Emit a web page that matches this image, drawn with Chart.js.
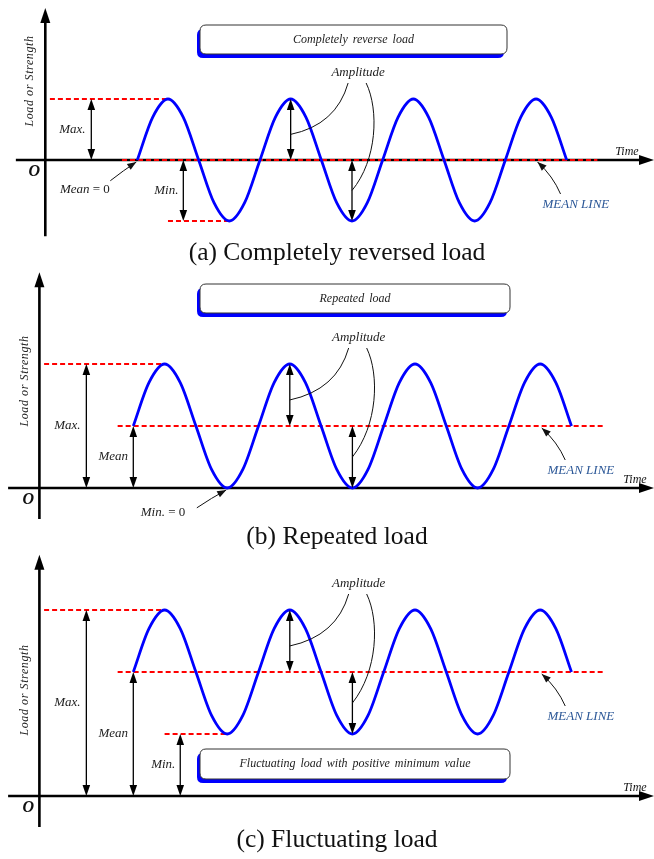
<!DOCTYPE html>
<html>
<head>
<meta charset="utf-8">
<script src="https://cdn.jsdelivr.net/npm/chart.js@4.4.0/dist/chart.umd.min.js"></script>
<style>
  html, body { margin: 0; padding: 0; background: #fff; }
  #wrap { position: relative; width: 654px; height: 859px; }
  canvas { position: absolute; left: 0; }
</style>
</head>
<body>
<div id="wrap">
  <canvas id="chartA" width="654" height="270" style="top:0px"></canvas>
  <canvas id="chartB" width="654" height="290" style="top:262px"></canvas>
  <canvas id="chartC" width="654" height="315" style="top:544px"></canvas>
</div>
<script>
// time in quarter periods (y axis sits at t = 0), load in amplitude units,
// read off the curves every eighth of a period
var times = [3, 3.5, 4, 4.5, 5, 5.5, 6, 6.5, 7, 7.5, 8, 8.5, 9, 9.5, 10, 10.5,
             11, 11.5, 12, 12.5, 13, 13.5, 14, 14.5, 15, 15.5, 16, 16.5, 17];
var loadA = [0, 0.7, 1, 0.7, 0, -0.7, -1, -0.7, 0, 0.7, 1, 0.7, 0, -0.7, -1, -0.7,
             0, 0.7, 1, 0.7, 0, -0.7, -1, -0.7, 0, 0.7, 1, 0.7, 0];
var loadB = [1, 1.7, 2, 1.7, 1, 0.3, 0, 0.3, 1, 1.7, 2, 1.7, 1, 0.3, 0, 0.3,
             1, 1.7, 2, 1.7, 1, 0.3, 0, 0.3, 1, 1.7, 2, 1.7, 1];
var loadC = [2, 2.7, 3, 2.7, 2, 1.3, 1, 1.3, 2, 2.7, 3, 2.7, 2, 1.3, 1, 1.3,
             2, 2.7, 3, 2.7, 2, 1.3, 1, 1.3, 2, 2.7, 3, 2.7, 2];

var maxLevels = [1, 2, 3];
var meanLevels = [0, 1, 2];
var minLevels = [-1, 0, 1];

// extents (in time units) of the red dashed guide lines
var meanLineSpan = [2.5, 18];
var maxLineSpan = [0.15, 4];
var minLineSpan = [4, 6];

var captions = ['(a) Completely reversed load', '(b) Repeated load', '(c) Fluctuating load'];
var boxTitles = ['Completely reverse load', 'Repeated load', 'Fluctuating load with positive minimum value'];
var yTitle = 'Load or Strength';
var xTitle = 'Time';

// layout of each panel (pixels inside its canvas)
var panels = [
  { id: 'chartA', h: 270, x0: 45.3, kx: 30.67, y0: 160, ky: 61, load: loadA,
    yTop: 2.49, yBot: -1.25, xLeft: -0.96, yTitleY: 81, captionY: 253, timeX: 627,
    box: { x: 200, y: 25, w: 307, h: 29 }, minArrow: true, minLine: true, meanArrow: false, note: 'mean0' },
  { id: 'chartB', h: 290, x0: 39.4, kx: 31.3, y0: 226, ky: 62, load: loadB,
    yTop: 3.48, yBot: -0.5, xLeft: -1.0, yTitleY: 119, captionY: 275, timeX: 635,
    box: { x: 200, y: 22, w: 310, h: 29 }, minArrow: false, minLine: false, meanArrow: true, note: 'min0' },
  { id: 'chartC', h: 315, x0: 39.4, kx: 31.3, y0: 252, ky: 62, load: loadC,
    yTop: 3.89, yBot: -0.5, xLeft: -1.0, yTitleY: 146, captionY: 296, timeX: 635,
    box: { x: 200, y: 205, w: 310, h: 30 }, minArrow: true, minLine: true, meanArrow: true, note: null }
];

var SERIF = '"Liberation Serif", "Times New Roman", serif';
var ITAL = 'italic 13px ' + SERIF;
var REG = '13px ' + SERIF;

function head(ctx, x, y, ang, len, half) {
  ctx.save();
  ctx.translate(x, y);
  ctx.rotate(ang);
  ctx.beginPath();
  ctx.moveTo(0, 0);
  ctx.lineTo(-len, -half);
  ctx.lineTo(-len, half);
  ctx.closePath();
  ctx.fill();
  ctx.restore();
}

function dbl(ctx, x, ya, yb) {
  var top = Math.min(ya, yb), bot = Math.max(ya, yb);
  ctx.save();
  ctx.strokeStyle = '#000';
  ctx.fillStyle = '#000';
  ctx.lineWidth = 1.3;
  ctx.beginPath();
  ctx.moveTo(x, top + 6);
  ctx.lineTo(x, bot - 6);
  ctx.stroke();
  head(ctx, x, top, -Math.PI / 2, 11, 3.8);
  head(ctx, x, bot, Math.PI / 2, 11, 3.8);
  ctx.restore();
}

function pointer(ctx, x1, y1, cx, cy, x2, y2) {
  ctx.save();
  ctx.strokeStyle = '#111';
  ctx.fillStyle = '#111';
  ctx.lineWidth = 1;
  ctx.beginPath();
  ctx.moveTo(x1, y1);
  ctx.quadraticCurveTo(cx, cy, x2, y2);
  ctx.stroke();
  head(ctx, x2, y2, Math.atan2(y2 - cy, x2 - cx), 9, 3.5);
  ctx.restore();
}

function txt(ctx, s, x, y, font, color) {
  ctx.save();
  ctx.font = font;
  ctx.fillStyle = color || '#222';
  ctx.textAlign = 'center';
  ctx.textBaseline = 'middle';
  ctx.fillText(s, x, y);
  ctx.restore();
}

function mixed(ctx, a, b, cx, cy) {
  ctx.save();
  ctx.font = ITAL;
  var w1 = ctx.measureText(a).width;
  ctx.font = REG;
  var w2 = ctx.measureText(b).width;
  var sx = cx - (w1 + w2) / 2;
  ctx.textAlign = 'left';
  ctx.textBaseline = 'middle';
  ctx.fillStyle = '#222';
  ctx.font = ITAL;
  ctx.fillText(a, sx, cy);
  ctx.font = REG;
  ctx.fillText(b, sx + w1, cy);
  ctx.restore();
}

function rrect(ctx, x, y, w, h, r) {
  ctx.beginPath();
  ctx.moveTo(x + r, y);
  ctx.lineTo(x + w - r, y);
  ctx.quadraticCurveTo(x + w, y, x + w, y + r);
  ctx.lineTo(x + w, y + h - r);
  ctx.quadraticCurveTo(x + w, y + h, x + w - r, y + h);
  ctx.lineTo(x + r, y + h);
  ctx.quadraticCurveTo(x, y + h, x, y + h - r);
  ctx.lineTo(x, y + r);
  ctx.quadraticCurveTo(x, y, x + r, y);
  ctx.closePath();
}

function makeOverlay(p, i) {
  return {
    id: 'overlay' + i,
    beforeDatasetsDraw: function (chart) {
      var ctx = chart.ctx;
      var X = function (v) { return chart.scales.x.getPixelForValue(v); };
      var Y = function (v) { return chart.scales.y.getPixelForValue(v); };
      var ax = X(0), ay = Y(0);
      ctx.save();
      ctx.strokeStyle = '#000';
      ctx.fillStyle = '#000';
      ctx.lineWidth = 2.6;
      ctx.beginPath();
      ctx.moveTo(ax, Y(p.yBot));
      ctx.lineTo(ax, Y(p.yTop) + 12);
      ctx.moveTo(X(p.xLeft), ay);
      ctx.lineTo(642, ay);
      ctx.stroke();
      head(ctx, ax, Y(p.yTop), -Math.PI / 2, 15, 5);
      head(ctx, 654, ay, 0, 15, 5);
      ctx.restore();
    },
    afterDatasetsDraw: function (chart) {
      var ctx = chart.ctx;
      var X = function (v) { return chart.scales.x.getPixelForValue(v); };
      var Y = function (v) { return chart.scales.y.getPixelForValue(v); };
      var ax = X(0), ay = Y(0);
      var mx = maxLevels[i], mn = meanLevels[i], mi = minLevels[i];

      // origin, axis titles
      txt(ctx, 'O', ax - 11, ay + 12, 'italic bold 16px ' + SERIF, '#111');
      ctx.save();
      ctx.translate(ax - 15, p.yTitleY);
      ctx.rotate(-Math.PI / 2);
      ctx.letterSpacing = '0.6px';
      txt(ctx, yTitle, 0, 0, 'italic 12px ' + SERIF, '#222');
      ctx.restore();
      txt(ctx, xTitle, p.timeX, ay - 8, 'italic 12px ' + SERIF, '#111');

      // title box with blue shadow
      var b = p.box;
      ctx.save();
      ctx.fillStyle = '#0000ff';
      rrect(ctx, b.x - 3, b.y + 4, b.w, b.h, 6);
      ctx.fill();
      ctx.fillStyle = '#fff';
      ctx.strokeStyle = '#333';
      ctx.lineWidth = 1;
      rrect(ctx, b.x, b.y, b.w, b.h, 6);
      ctx.fill();
      ctx.stroke();
      ctx.wordSpacing = '2px';
      txt(ctx, boxTitles[i], b.x + b.w / 2, b.y + b.h / 2, 'italic 12px ' + SERIF, '#222');
      ctx.restore();

      // level arrows
      dbl(ctx, X(1.5), ay, Y(mx));
      txt(ctx, 'Max.', X(1.5) - 19, Y(mx / 2), ITAL);
      if (p.meanArrow) {
        dbl(ctx, X(3), ay, Y(mn));
        txt(ctx, 'Mean', X(3) - 20, Y(mn / 2), ITAL);
      }
      if (p.minArrow) {
        dbl(ctx, X(4.5), ay, Y(mi));
        txt(ctx, 'Min.', X(4.5) - 17, Y(mi / 2), ITAL);
      }

      // amplitude arrows and leaders
      dbl(ctx, X(8), Y(mn), Y(mx));
      dbl(ctx, X(10), Y(mi), Y(mn));
      var lx = X(10.2), ly = Y(mx) - 26;
      txt(ctx, 'Amplitude', lx, ly, ITAL);
      ctx.save();
      ctx.strokeStyle = '#111';
      ctx.lineWidth = 1;
      ctx.beginPath();
      ctx.moveTo(lx - 10, ly + 10);
      ctx.quadraticCurveTo(lx - 22, ly + 52, X(8), Y(mn + 0.42));
      ctx.moveTo(lx + 8, ly + 10);
      ctx.bezierCurveTo(lx + 21, ly + 37, lx + 19, ly + 87, X(10), Y(mn - 0.5));
      ctx.stroke();
      ctx.restore();

      // mean line label
      txt(ctx, 'MEAN LINE', X(17.3), Y(mn) + 45, ITAL, '#2b5797');
      pointer(ctx, X(16.8), Y(mn) + 34, X(16.55), Y(mn) + 16, X(16.05), Y(mn) + 2);

      if (p.note === 'mean0') {
        mixed(ctx, 'Mean', ' = 0', X(1.29), Y(-0.49));
        pointer(ctx, X(2.12), Y(-0.34), X(2.55), Y(-0.17), X(3) - 1, ay + 2);
      }
      if (p.note === 'min0') {
        mixed(ctx, 'Min.', ' = 0', X(3.95), Y(-0.39));
        pointer(ctx, X(5.03), Y(-0.32), X(5.5), Y(-0.16), X(6) - 1, ay + 2);
      }

      // caption
      txt(ctx, captions[i], 337, p.captionY, '25.5px ' + SERIF, '#111');
    }
  };
}

function pts(xs, ys) {
  return xs.map(function (x, k) { return { x: x, y: ys[k] }; });
}

function span(xs, level) {
  return xs.map(function (x) { return { x: x, y: level }; });
}

panels.forEach(function (p, i) {
  var dashed = { borderColor: '#ff0000', borderWidth: 2, borderDash: [5, 3], pointRadius: 0, fill: false, tension: 0 };
  var sets = [
    { data: pts(times, p.load), borderColor: '#0000ff', borderWidth: 2.8, pointRadius: 0, fill: false,
      cubicInterpolationMode: 'monotone' },
    Object.assign({ data: span(meanLineSpan, meanLevels[i]) }, dashed),
    Object.assign({ data: span(maxLineSpan, maxLevels[i]) }, dashed)
  ];
  if (p.minLine) sets.push(Object.assign({ data: span(minLineSpan, minLevels[i]) }, dashed));

  new Chart(document.getElementById(p.id), {
    type: 'line',
    data: { datasets: sets },
    options: {
      responsive: false,
      animation: false,
      events: [],
      layout: { padding: 0 },
      plugins: { legend: { display: false }, tooltip: { enabled: false }, title: { display: false } },
      scales: {
        x: { type: 'linear', display: false, min: -p.x0 / p.kx, max: (654 - p.x0) / p.kx },
        y: { type: 'linear', display: false, min: -(p.h - p.y0) / p.ky, max: p.y0 / p.ky }
      }
    },
    plugins: [makeOverlay(p, i)]
  });
});
</script>
</body>
</html>
